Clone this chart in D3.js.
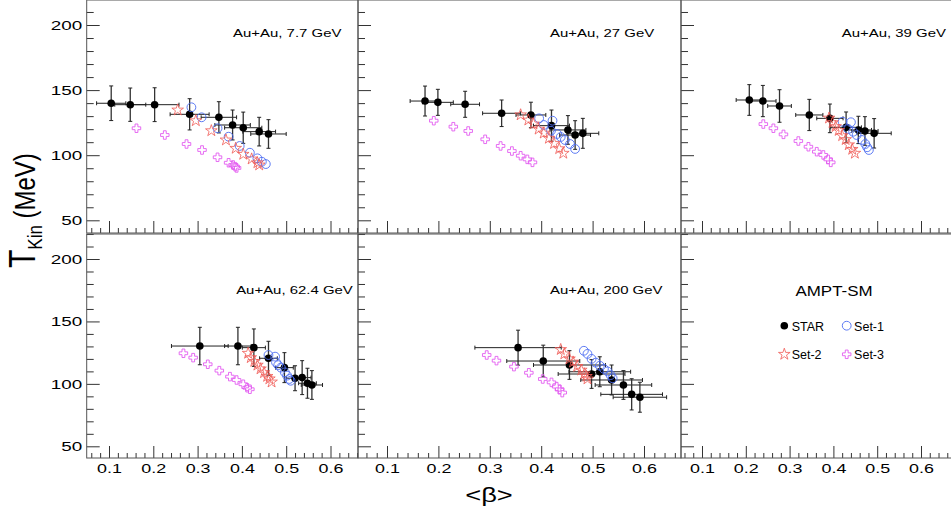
<!DOCTYPE html>
<html>
<head>
<meta charset="utf-8">
<script src="https://cdn.jsdelivr.net/npm/d3@7"></script>
<style>
  body { margin: 0; background: #fff; }
  svg { display: block; }
  text { font-family: "Liberation Sans", Arial, Helvetica, sans-serif; fill: #000; }
</style>
</head>
<body>
<svg id="chart" width="951" height="514"></svg>
<script>
// ---- data (one row per collision energy) ----
var energies = ["7.7", "27", "39", "62.4", "200"];

var starBeta = [
  [0.105, 0.148, 0.203, 0.282, 0.348, 0.379, 0.403, 0.439, 0.460],
  [0.174, 0.199, 0.252, 0.323, 0.380, 0.420, 0.452, 0.466, 0.481],
  [0.208, 0.239, 0.277, 0.345, 0.392, 0.429, 0.457, 0.472, 0.493],
  [0.305, 0.391, 0.427, 0.460, 0.496, 0.520, 0.536, 0.548, 0.558],
  [0.355, 0.404, 0.455, 0.498, 0.514, 0.537, 0.560, 0.576, 0.592]
];
var starT = [
  [139.9, 138.8, 138.8, 131.4, 129.1, 123.2, 121.1, 118.1, 116.3],
  [141.6, 140.6, 139.1, 132.2, 130.9, 122.7, 119.4, 115.5, 116.8],
  [142.4, 141.6, 137.8, 130.9, 128.3, 121.4, 119.4, 118.6, 116.8],
  [130.3, 130.3, 129.0, 120.5, 113.0, 104.5, 105.0, 100.5, 99.1],
  [129.0, 118.3, 115.1, 107.9, 109.7, 103.1, 99.1, 91.6, 89.3]
];
var starBetaErr = [
  [0.033, 0.035, 0.055, 0.044, 0.040, 0.040, 0.042, 0.037, 0.040],
  [0.029, 0.030, 0.028, 0.037, 0.029, 0.035, 0.035, 0.030, 0.031],
  [0.030, 0.030, 0.027, 0.031, 0.030, 0.035, 0.030, 0.030, 0.039],
  [0.064, 0.030, 0.026, 0.020, 0.020, 0.020, 0.020, 0.020, 0.024],
  [0.084, 0.071, 0.070, 0.065, 0.060, 0.060, 0.055, 0.060, 0.052]
];
var starTErr = [
  [13.3, 12.8, 13.0, 12.0, 12.0, 11.5, 12.0, 11.0, 11.0],
  [11.5, 10.0, 10.0, 10.2, 9.8, 12.0, 11.0, 11.0, 11.5],
  [11.8, 12.0, 12.5, 12.0, 11.0, 11.8, 10.5, 11.0, 11.3],
  [15.0, 15.0, 15.0, 13.6, 12.0, 10.0, 13.6, 12.0, 11.5],
  [14.0, 12.7, 11.5, 11.5, 12.0, 12.0, 11.5, 12.5, 12.0]
];

var set1Beta = [
  [0.286, 0.309, 0.345, 0.370, 0.395, 0.418, 0.435, 0.445, 0.454],
  [0.396, 0.422, 0.405, 0.419, 0.431, 0.438, 0.446, 0.456, 0.466],
  [0.421, 0.440, 0.434, 0.445, 0.453, 0.465, 0.473, 0.477, 0.481],
  [0.460, 0.475, 0.477, 0.482, 0.488, 0.497, 0.502, 0.507, 0.510],
  [0.483, 0.490, 0.498, 0.506, 0.514, 0.522, 0.529, 0.535, 0.539]
];
var set1T = [
  [136.8, 129.1, 120.7, 114.2, 107.1, 101.9, 97.6, 95.0, 93.2],
  [128.3, 126.5, 123.2, 118.8, 116.3, 114.0, 111.7, 108.6, 104.8],
  [125.7, 125.3, 120.1, 118.0, 115.5, 111.7, 108.6, 106.1, 104.0],
  [123.1, 121.8, 117.2, 115.0, 113.0, 109.2, 106.6, 103.9, 102.5],
  [126.5, 124.0, 120.0, 117.0, 114.5, 112.0, 110.0, 107.0, 104.5]
];

var set2Beta = [
  [0.255, 0.296, 0.331, 0.364, 0.386, 0.403, 0.422, 0.435, 0.439],
  [0.360, 0.375, 0.385, 0.395, 0.405, 0.415, 0.425, 0.435, 0.443],
  [0.390, 0.398, 0.405, 0.412, 0.420, 0.428, 0.435, 0.443, 0.449],
  [0.414, 0.420, 0.428, 0.435, 0.442, 0.450, 0.457, 0.462, 0.467],
  [0.438, 0.445, 0.455, 0.462, 0.470, 0.478, 0.484, 0.488, 0.490]
];
var set2T = [
  [134.7, 126.5, 118.8, 111.7, 105.3, 100.7, 97.1, 94.2, 92.5],
  [131.0, 127.0, 124.0, 120.0, 117.0, 113.0, 109.0, 105.0, 101.5],
  [128.5, 125.0, 122.0, 119.0, 115.0, 112.0, 108.0, 104.5, 101.5],
  [124.5, 121.0, 118.0, 115.0, 112.0, 109.0, 106.0, 104.0, 101.5],
  [127.5, 124.0, 120.0, 117.5, 114.0, 111.0, 108.0, 106.0, 104.0]
];

var set3Beta = [
  [0.162, 0.226, 0.275, 0.310, 0.345, 0.370, 0.380, 0.385, 0.388],
  [0.191, 0.229, 0.258, 0.291, 0.321, 0.343, 0.360, 0.373, 0.383],
  [0.240, 0.263, 0.286, 0.320, 0.343, 0.362, 0.377, 0.388, 0.394],
  [0.268, 0.290, 0.323, 0.349, 0.373, 0.388, 0.403, 0.412, 0.418],
  [0.294, 0.313, 0.347, 0.376, 0.403, 0.420, 0.430, 0.436, 0.441]
];
var set3T = [
  [120.7, 115.5, 108.6, 104.0, 98.4, 94.2, 92.5, 91.2, 90.2],
  [126.5, 121.9, 118.6, 112.2, 107.1, 103.2, 99.6, 96.8, 94.5],
  [123.9, 120.7, 116.0, 110.9, 106.5, 102.7, 100.2, 96.8, 94.5],
  [124.5, 121.0, 115.7, 110.6, 105.8, 103.1, 99.7, 96.9, 95.7],
  [123.1, 118.6, 113.8, 108.9, 103.9, 101.2, 97.8, 95.7, 93.0]
];

var legendNames = ["STAR", "Set-1", "Set-2", "Set-3"];

// ---- layout ----
var svg = d3.select("#chart");
var cols = [[86.7, 358], [358, 681], [681, 952]];       // frame edges
var rows = [[0, 233], [234, 458]];
var colTicks = [[109, 330.5], [387, 644], [702, 921]];  // pixel of beta 0.1 / 0.6
var rowTicks = [[25, 220.3], [259, 446.3]];             // pixel of T 200 / 50
var labelPos = [[0.380, 190.8], [0.417, 190.8], [0.419, 190.8], [0.387, 171.6], [0.417, 171.6]];

var blue = "#4d6df2", red = "#f05a55", magenta = "#e35cf0";
var starSym = d3.symbol().type(d3.symbolStar).size(42);
var crossSym = d3.symbol().type(d3.symbolCross).size(40);

function stretchText(sel, sx) {
  sel.attr("transform", "scale(" + sx + ",1)");
}

function drawPanel(i) {
  var c = i % 3, r = Math.floor(i / 3);
  var x = d3.scaleLinear().domain([0.1, 0.6]).range(colTicks[c]);
  var y = d3.scaleLinear().domain([200, 50]).range(rowTicks[r]);
  var x0 = cols[c][0], x1 = cols[c][1], y0 = rows[r][0], y1 = rows[r][1];
  var g = svg.append("g").attr("class", "panel");

  var bLo = x.invert(x0), bHi = x.invert(x1);
  var tLo = y.invert(y1), tHi = y.invert(y0);
  var xMajor = d3.range(1, 7).map(d => d / 10).filter(d => d > bLo && d < bHi);
  var xMinor = d3.range(1, 35).map(d => d / 50).filter(d => d > bLo && d < bHi && Math.round(d * 50) % 5 !== 0);
  var yMajor = [50, 100, 150, 200].filter(d => d > tLo && d < tHi);
  var yMinor = d3.range(40, 230, 10).filter(d => d > tLo && d < tHi && d % 50 !== 0);

  // x axis (ticks point up inside the frame)
  var gx = g.append("g").attr("transform", "translate(0," + y1 + ")").style("color", "#333");
  gx.append("g").call(d3.axisBottom(x).tickValues(xMinor).tickSize(-5).tickFormat(""));
  var gxm = gx.append("g").call(d3.axisBottom(x).tickValues(xMajor).tickSize(-12).tickPadding(6)
    .tickFormat(r === 1 ? d3.format(".1f") : ""));
  gxm.selectAll("text").style("font-size", "12.8px").attr("fill", "#000").call(stretchText, 1.4);
  gx.selectAll(".domain").remove();

  // y axis (ticks point right inside the frame)
  var gy = g.append("g").attr("transform", "translate(" + x0 + ",0)").style("color", "#333");
  gy.append("g").call(d3.axisLeft(y).tickValues(yMinor).tickSize(-7).tickFormat(""));
  var gym = gy.append("g").call(d3.axisLeft(y).tickValues(yMajor).tickSize(-13).tickPadding(3.2)
    .tickFormat(c === 0 ? d3.format("d") : ""));
  gym.selectAll("text").style("font-size", "13.2px").attr("fill", "#000").call(stretchText, 1.43);
  gy.selectAll(".domain").remove();

  g.append("rect").attr("x", x0).attr("y", y0).attr("width", x1 - x0).attr("height", y1 - y0)
    .attr("fill", "none").attr("stroke", "#555").attr("stroke-width", 1);

  if (i > 4) return;

  var star = starBeta[i].map((b, k) => ({b: b, t: starT[i][k], eb: starBetaErr[i][k], et: starTErr[i][k]}));
  var cap = 2;
  var eg = g.append("g").attr("stroke", "#222").attr("stroke-width", 1);
  star.forEach(function (d) {
    var px = x(d.b), py = y(d.t);
    var xl = x(d.b - d.eb), xr = x(d.b + d.eb), yt = y(d.t + d.et), yb = y(d.t - d.et);
    eg.append("line").attr("x1", xl).attr("x2", xr).attr("y1", py).attr("y2", py);
    eg.append("line").attr("x1", xl).attr("x2", xl).attr("y1", py - cap).attr("y2", py + cap);
    eg.append("line").attr("x1", xr).attr("x2", xr).attr("y1", py - cap).attr("y2", py + cap);
    eg.append("line").attr("x1", px).attr("x2", px).attr("y1", yt).attr("y2", yb).attr("stroke", "#333").attr("stroke-width", 1.3);
    eg.append("line").attr("x1", px - cap).attr("x2", px + cap).attr("y1", yt).attr("y2", yt);
    eg.append("line").attr("x1", px - cap).attr("x2", px + cap).attr("y1", yb).attr("y2", yb);
  });

  g.append("g").selectAll("circle").data(star).join("circle")
    .attr("cx", d => x(d.b)).attr("cy", d => y(d.t)).attr("r", 3.8).attr("fill", "#000");

  g.append("g").selectAll("circle").data(set1Beta[i].map((b, k) => [b, set1T[i][k]])).join("circle")
    .attr("cx", d => x(d[0])).attr("cy", d => y(d[1])).attr("r", 4.4)
    .attr("fill", "none").attr("stroke", blue).attr("stroke-width", 0.9);

  g.append("g").selectAll("path").data(set2Beta[i].map((b, k) => [b, set2T[i][k]])).join("path")
    .attr("d", starSym).attr("transform", d => "translate(" + x(d[0]) + "," + y(d[1]) + ")")
    .attr("fill", "none").attr("stroke", red).attr("stroke-width", 0.8);

  g.append("g").selectAll("path").data(set3Beta[i].map((b, k) => [b, set3T[i][k]])).join("path")
    .attr("d", crossSym).attr("transform", d => "translate(" + x(d[0]) + "," + y(d[1]) + ")")
    .attr("fill", "none").attr("stroke", magenta).attr("stroke-width", 0.9);

  g.append("text").attr("transform", "translate(" + x(labelPos[i][0]) + "," + y(labelPos[i][1]) + ") scale(1.3,1)")
    .style("font-size", "11.5px").text("Au+Au, " + energies[i] + " GeV");
}

d3.range(6).forEach(drawPanel);

// ---- legend in the empty sixth panel ----
var lg = svg.append("g");
lg.append("text").attr("transform", "translate(834,296) scale(1.13,1)").attr("text-anchor", "middle")
  .style("font-size", "15px").text("AMPT-SM");
var legendPos = [[784.3, 325.7], [846.7, 325.7], [784.3, 354.3], [846.7, 354.3]];
legendNames.forEach(function (name, k) {
  var p = legendPos[k];
  var m;
  if (k === 0) m = lg.append("circle").attr("r", 3.8).attr("fill", "#000");
  else if (k === 1) m = lg.append("circle").attr("r", 4.4).attr("fill", "none").attr("stroke", blue).attr("stroke-width", 0.9);
  else if (k === 2) m = lg.append("path").attr("d", starSym).attr("fill", "none").attr("stroke", red).attr("stroke-width", 0.8);
  else m = lg.append("path").attr("d", crossSym).attr("fill", "none").attr("stroke", magenta).attr("stroke-width", 0.9);
  m.attr("transform", "translate(" + p[0] + "," + p[1] + ")");
  lg.append("text").attr("x", p[0] + 7.4).attr("y", p[1] + 5).style("font-size", "12.5px").text(name);
});

// ---- axis titles ----
var yt = svg.append("text").attr("transform", "translate(35,268) scale(1.2,1) rotate(-90)").style("font-size", "24px");
yt.append("tspan").style("font-size", "30px").text("T");
yt.append("tspan").attr("dy", 6).style("font-size", "17px").text("Kin");
yt.append("tspan").attr("dy", -6).text(" (MeV)");

svg.append("text").attr("transform", "translate(489,502) scale(1.3,1)").attr("text-anchor", "middle")
  .style("font-size", "21px").text("<β>");
</script>
</body>
</html>
